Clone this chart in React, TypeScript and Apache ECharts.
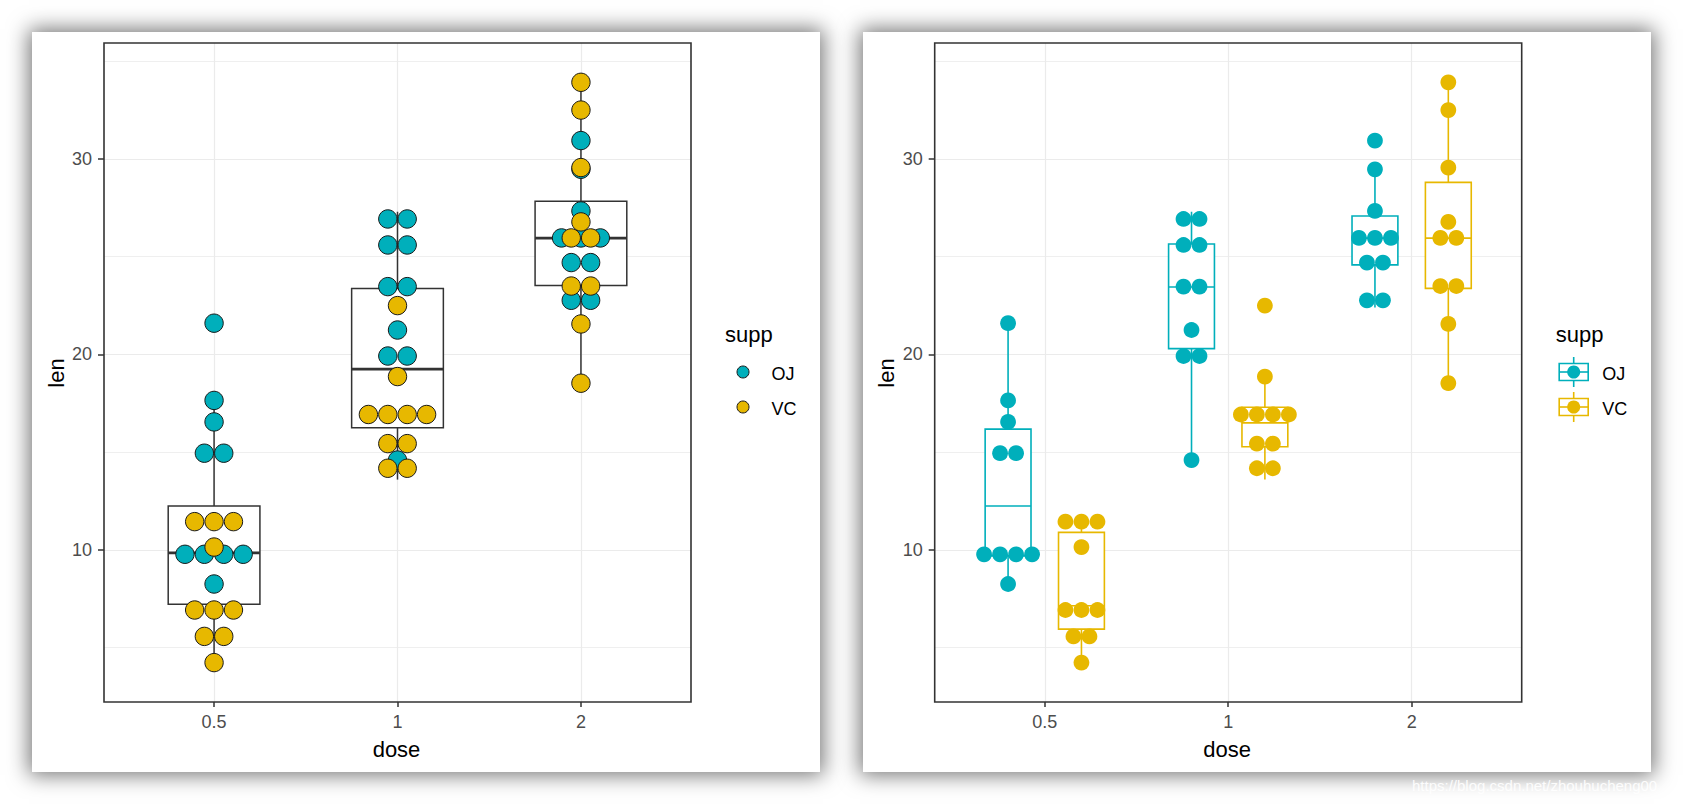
import React, { useEffect, useRef } from "react";
import * as echarts from "echarts";

// ---------- data (ToothGrowth) ----------
const doses = ["0.5", "1", "2"];
const supps = ["OJ", "VC"];
const suppColors = ["#00AFBB", "#E7B800"];

// binned dot centres (len) and number of stacked dots in each bin, per dose
const ojBinLen = [
  [21.6, 17.65, 16.55, 14.95, 9.78, 8.26],
  [26.93, 25.6, 23.47, 21.25, 19.92, 14.6],
  [30.94, 29.47, 27.34, 25.96, 24.7, 22.77],
];
const ojBinCount = [
  [1, 1, 1, 2, 4, 1],
  [2, 2, 2, 1, 2, 1],
  [1, 1, 1, 3, 2, 2],
];
const vcBinLen = [
  [11.45, 10.15, 6.93, 5.58, 4.24],
  [22.5, 18.87, 16.93, 15.44, 14.18],
  [33.92, 32.5, 29.56, 26.78, 25.96, 23.5, 21.56, 18.53],
];
const vcBinCount = [
  [3, 1, 3, 2, 1],
  [1, 1, 4, 2, 2],
  [1, 1, 1, 1, 2, 2, 1, 1],
];

// box statistics: [lower whisker, Q1, median, Q3, upper whisker]
const allBox = [
  [4.2, 7.23, 9.85, 12.25, 17.6],
  [13.6, 16.25, 19.25, 23.38, 27.3],
  [18.5, 23.53, 25.95, 27.83, 33.9],
];
const ojBox = [
  [8.2, 9.7, 12.25, 16.18, 21.5],
  [14.5, 20.3, 23.45, 25.65, 27.3],
  [22.4, 24.58, 25.95, 27.08, 29.4],
];
const vcBox = [
  [4.2, 5.95, 7.15, 10.9, 11.5],
  [13.6, 15.28, 16.5, 17.3, 18.8],
  [18.5, 23.38, 25.95, 28.8, 33.9],
];

const yTicks = [10, 20, 30];
const yMinorLines = [5, 15, 25, 35];
const yRange = [2.225, 35.93];

// ---------- layout ----------
const FONT = "'Liberation Sans', Arial, Helvetica, sans-serif";
const CARDS_X = [32, 862.7];
const CARD_Y = 32;
const CARD_W = 788;
const CARD_H = 740;
const GRID_OFF_X = 72;
const GRID_TOP = 43;
const GRID_W = 587;
const GRID_H = 659;

const boxRender =
  (hw: number, stroke: string, lw: number, medLw: number) =>
  (_params: any, api: any) => {
    const x = api.value(0);
    const lo = api.value(1);
    const q1 = api.value(2);
    const med = api.value(3);
    const q3 = api.value(4);
    const hi = api.value(5);
    const tl = api.coord([x - hw, q3]);
    const br = api.coord([x + hw, q1]);
    const ml = api.coord([x - hw, med]);
    const mr = api.coord([x + hw, med]);
    const pHi = api.coord([x, hi]);
    const pQ3 = api.coord([x, q3]);
    const pQ1 = api.coord([x, q1]);
    const pLo = api.coord([x, lo]);
    return {
      type: "group",
      children: [
        { type: "line", shape: { x1: pHi[0], y1: pHi[1], x2: pQ3[0], y2: pQ3[1] }, style: { stroke, lineWidth: lw } },
        { type: "line", shape: { x1: pQ1[0], y1: pQ1[1], x2: pLo[0], y2: pLo[1] }, style: { stroke, lineWidth: lw } },
        {
          type: "rect",
          shape: { x: tl[0], y: tl[1], width: br[0] - tl[0], height: br[1] - tl[1] },
          style: { fill: "#ffffff", stroke, lineWidth: lw },
        },
        { type: "line", shape: { x1: ml[0], y1: ml[1], x2: mr[0], y2: mr[1] }, style: { stroke, lineWidth: medLw } },
      ],
    };
  };

const dotRender =
  (r: number, fill: string, stroke: string | null, lw: number, spacing: number) =>
  (_params: any, api: any) => {
    const x = api.value(0);
    const y = api.value(1);
    const n = api.value(2);
    const c = api.coord([x, y]);
    const children: any[] = [];
    for (let k = 0; k < n; k++) {
      children.push({
        type: "circle",
        shape: { cx: c[0] + (k - (n - 1) / 2) * spacing, cy: c[1], r },
        style: stroke ? { fill, stroke, lineWidth: lw } : { fill },
      });
    }
    return { type: "group", children };
  };

const binData = (lens: number[][], counts: number[][], dx: number) =>
  lens.flatMap((arr, i) => arr.map((v, j) => [i + 1 + dx, v, counts[i][j]]));

const boxData = (boxes: number[][], dx: number) => boxes.map((b, i) => [i + 1 + dx, ...b]);

function buildOption() {
  const grids = [0, 1].map((p) => ({
    left: CARDS_X[p] + GRID_OFF_X,
    top: GRID_TOP,
    width: GRID_W,
    height: GRID_H,
    show: true,
    borderColor: "#333333",
    borderWidth: 1.6,
    backgroundColor: "transparent",
    z: 10,
  }));

  const xAxes = [0, 1].map((p) => ({
    type: "value",
    gridIndex: p,
    min: 0.4,
    max: 3.6,
    axisLine: { show: false },
    splitLine: { show: false },
    axisTick: { show: true, customValues: [1, 2, 3], length: 5, lineStyle: { color: "#333333", width: 1.5 } },
    axisLabel: {
      customValues: [1, 2, 3],
      formatter: (v: number) => doses[Math.round(v) - 1] ?? "",
      color: "#4D4D4D",
      fontSize: 18,
      fontFamily: FONT,
      margin: 11,
    },
  }));

  const yAxes = [0, 1].map((p) => ({
    type: "value",
    gridIndex: p,
    min: yRange[0],
    max: yRange[1],
    axisLine: { show: false },
    splitLine: { show: false },
    axisTick: { show: true, customValues: yTicks, length: 6, lineStyle: { color: "#333333", width: 1.5 } },
    axisLabel: {
      customValues: yTicks,
      color: "#4D4D4D",
      fontSize: 18,
      fontFamily: FONT,
      margin: 12,
    },
  }));

  const series: any[] = [];

  // grid lines
  [0, 1].forEach((p) => {
    series.push({
      type: "line",
      xAxisIndex: p,
      yAxisIndex: p,
      data: [],
      silent: true,
      z: 1,
      markLine: {
        z: 1,
        silent: true,
        symbol: ["none", "none"],
        label: { show: false },
        emphasis: { disabled: true },
        lineStyle: { color: "#EBEBEB", width: 1.2, type: "solid" },
        data: [
          ...yTicks.map((v) => ({ yAxis: v })),
          ...yMinorLines.map((v) => ({ yAxis: v, lineStyle: { color: "#EFEFEF", width: 1, type: "solid" } })),
          ...[1, 2, 3].map((v) => ({ xAxis: v })),
        ],
      },
    });
  });

  // left panel: one box per dose, dots of both supps overlaid
  series.push({
    type: "custom",
    xAxisIndex: 0,
    yAxisIndex: 0,
    z: 2,
    encode: { x: 0, y: [1, 2, 3, 4, 5] },
    data: boxData(allBox, 0),
    renderItem: boxRender(0.25, "#333333", 1.5, 2.6),
  });
  series.push({
    type: "custom",
    name: supps[0],
    xAxisIndex: 0,
    yAxisIndex: 0,
    z: 3,
    encode: { x: 0, y: 1 },
    data: binData(ojBinLen, ojBinCount, 0),
    renderItem: dotRender(9.2, suppColors[0], "#1a1a1a", 1, 19.4),
  });
  series.push({
    type: "custom",
    name: supps[1],
    xAxisIndex: 0,
    yAxisIndex: 0,
    z: 3,
    encode: { x: 0, y: 1 },
    data: binData(vcBinLen, vcBinCount, 0),
    renderItem: dotRender(9.2, suppColors[1], "#1a1a1a", 1, 19.4),
  });

  // right panel: dodged boxes coloured by supp
  const dodge = [-0.2, 0.2];
  [ojBox, vcBox].forEach((boxes, s) => {
    series.push({
      type: "custom",
      xAxisIndex: 1,
      yAxisIndex: 1,
      z: 2,
      encode: { x: 0, y: [1, 2, 3, 4, 5] },
      data: boxData(boxes, dodge[s]),
      renderItem: boxRender(0.125, suppColors[s], 1.6, 1.6),
    });
  });
  [
    [ojBinLen, ojBinCount],
    [vcBinLen, vcBinCount],
  ].forEach(([lens, counts], s) => {
    series.push({
      type: "custom",
      name: supps[s],
      xAxisIndex: 1,
      yAxisIndex: 1,
      z: 3,
      encode: { x: 0, y: 1 },
      data: binData(lens as number[][], counts as number[][], dodge[s]),
      renderItem: dotRender(7.9, suppColors[s], null, 0, 16),
    });
  });

  // titles and legends (drawn as graphics)
  const graphic: any[] = [];
  const rowY = [372, 407];
  [0, 1].forEach((p) => {
    const gl = CARDS_X[p] + GRID_OFF_X;
    const gr = gl + GRID_W;
    graphic.push({
      type: "text",
      x: CARDS_X[p] + 24,
      y: 373,
      rotation: Math.PI / 2,
      style: { text: "len", font: `22px ${FONT}`, fill: "#000", align: "center", verticalAlign: "middle", textAlign: "center", textVerticalAlign: "middle" },
    });
    graphic.push({
      type: "text",
      x: gl + GRID_W / 2 - 1,
      y: 749,
      style: { text: "dose", font: `22px ${FONT}`, fill: "#000", align: "center", verticalAlign: "middle", textAlign: "center", textVerticalAlign: "middle" },
    });
    graphic.push({
      type: "text",
      x: gr + 34,
      y: 334,
      style: { text: "supp", font: `22px ${FONT}`, fill: "#000", align: "left", verticalAlign: "middle", textAlign: "left", textVerticalAlign: "middle" },
    });
    supps.forEach((s, i) => {
      const cy = rowY[i];
      if (p === 0) {
        graphic.push({
          type: "circle",
          shape: { cx: gr + 52, cy, r: 6 },
          style: { fill: suppColors[i], stroke: "#1a1a1a", lineWidth: 1 },
        });
      } else {
        const cx = gr + 52;
        graphic.push({
          type: "line",
          shape: { x1: cx, y1: cy - 15, x2: cx, y2: cy + 15 },
          style: { stroke: suppColors[i], lineWidth: 1.6 },
        });
        graphic.push({
          type: "rect",
          shape: { x: cx - 14.5, y: cy - 8.5, width: 29, height: 17 },
          style: { fill: "#fff", stroke: suppColors[i], lineWidth: 1.6 },
        });
        graphic.push({
          type: "line",
          shape: { x1: cx - 14.5, y1: cy, x2: cx + 14.5, y2: cy },
          style: { stroke: suppColors[i], lineWidth: 1.6 },
        });
        graphic.push({
          type: "circle",
          shape: { cx, cy, r: 6.5 },
          style: { fill: suppColors[i] },
        });
      }
      graphic.push({
        type: "text",
        x: gr + 80.5,
        y: cy + 2,
        style: { text: s, font: `18px ${FONT}`, fill: "#000", align: "left", verticalAlign: "middle", textAlign: "left", textVerticalAlign: "middle" },
      });
    });
  });
  graphic.push({
    type: "text",
    x: 1412,
    y: 785,
    style: {
      text: "https://blog.csdn.net/zhouhucheng00",
      font: `15px ${FONT}`,
      fill: "rgba(255,255,255,0.92)",
      align: "left",
      verticalAlign: "middle",
      textAlign: "left",
      textVerticalAlign: "middle",
    },
  });

  return {
    animation: false,
    backgroundColor: "transparent",
    textStyle: { fontFamily: FONT },
    grid: grids,
    xAxis: xAxes,
    yAxis: yAxes,
    series,
    graphic,
  };
}

export default function App() {
  const ref = useRef<HTMLDivElement>(null);
  useEffect(() => {
    if (!ref.current) return;
    const chart = echarts.init(ref.current, undefined, { renderer: "svg" });
    chart.setOption(buildOption() as any);
    return () => chart.dispose();
  }, []);

  const cardStyle = (x: number): React.CSSProperties => ({
    position: "absolute",
    left: x,
    top: CARD_Y,
    width: CARD_W,
    height: CARD_H,
    background: "#ffffff",
    boxShadow: "0 0 20px 3px rgba(0,0,0,0.55)",
  });

  return (
    <div style={{ position: "fixed", left: 0, top: 0, width: 1683, height: 804, background: "#ffffff", overflow: "hidden" }}>
      <div style={cardStyle(CARDS_X[0])} />
      <div style={cardStyle(CARDS_X[1])} />
      <div ref={ref} style={{ position: "absolute", left: 0, top: 0, width: 1683, height: 804 }} />
    </div>
  );
}
